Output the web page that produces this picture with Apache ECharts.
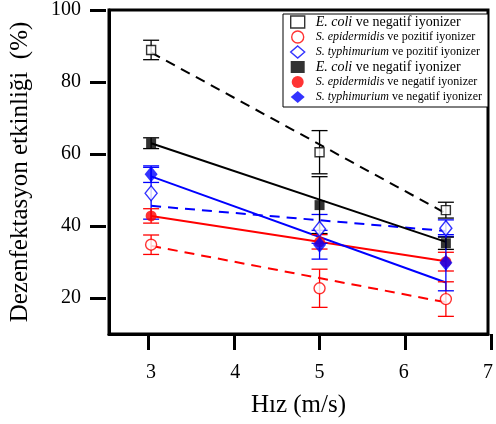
<!DOCTYPE html>
<html>
<head>
<meta charset="utf-8">
<script src="https://cdn.jsdelivr.net/npm/echarts@6/dist/echarts.min.js"></script>
<style>
  html, body { margin: 0; padding: 0; background: #fff; }
  #chart { width: 496px; height: 424px; }
</style>
</head>
<body>
<div id="chart"></div>
<script>
// Speed vs disinfection efficiency, 6 groups with error bars and linear fits.
const xVals = [3, 5, 6.5];
const xTicks = [3, 4, 5, 6, 7];
const yTicks = [20, 40, 60, 80, 100];
const X_MIN = 2.5, X_MAX = 7, Y_MIN = 10, Y_MAX = 100;

const ecoliPoz = [88.9, 60.5, 44.4];
const ecoliPozErr = [2.7, 6.0, 2.2];
const sepiPoz = [34.8, 22.7, 19.7];
const sepiPozErr = [2.7, 5.3, 4.8];
const styphPoz = [49.1, 39.2, 39.4];
const styphPozErr = [7.2, 4.0, 2.3];
const ecoliNeg = [63.0, 45.8, 35.2];
const ecoliNegErr = [1.5, 7.9, 1.7];
const sepiNeg = [42.8, 35.6, 30.1];
const sepiNegErr = [2.0, 2.0, 2.6];
const styphNeg = [54.4, 34.8, 29.8];
const styphNegErr = [2.3, 4.0, 7.8];

// fit lines, read at x = 3 and x = 6.5
const fitX = [3, 6.5];
const fitEcoliPoz = [88.2, 43.5];
const fitSepiPoz = [34.5, 18.8];
const fitStyphPoz = [45.6, 38.6];
const fitEcoliNeg = [63.0, 35.6];
const fitSepiNeg = [42.8, 30.2];
const fitStyphNeg = [53.8, 24.3];

const legendSpecies = ['E. coli', 'S. epidermidis', 'S. typhimurium', 'E. coli', 'S. epidermidis', 'S. typhimurium'];
const legendRest = [' ve negatif iyonizer', ' ve pozitif iyonizer', ' ve pozitif iyonizer', ' ve negatif iyonizer', ' ve negatif iyonizer', ' ve negatif iyonizer'];

const FONT = "'Liberation Serif', 'Times New Roman', serif";
const BLACK = '#000000', RED = '#ff0000', BLUE = '#0000ff';

const W = 496, H = 424;
const GRID = { left: 106, right: 5, top: 10, bottom: 90 };

const groups = [
  { key: 'g0', vals: ecoliPoz, err: ecoliPozErr, fit: fitEcoliPoz, color: BLACK, open: true,  symbol: 'rect',    size: 9,        dash: true },
  { key: 'g1', vals: sepiPoz,  err: sepiPozErr,  fit: fitSepiPoz,  color: RED,   open: true,  symbol: 'circle',  size: 11,       dash: true },
  { key: 'g2', vals: styphPoz, err: styphPozErr, fit: fitStyphPoz, color: BLUE,  open: true,  symbol: 'diamond', size: [12, 15], dash: true },
  { key: 'g3', vals: ecoliNeg, err: ecoliNegErr, fit: fitEcoliNeg, color: BLACK, open: false, symbol: 'rect',    size: 10,       dash: false },
  { key: 'g4', vals: sepiNeg,  err: sepiNegErr,  fit: fitSepiNeg,  color: RED,   open: false, symbol: 'circle',  size: 11,       dash: false },
  { key: 'g5', vals: styphNeg, err: styphNegErr, fit: fitStyphNeg, color: BLUE,  open: false, symbol: 'diamond', size: [13, 16], dash: false },
];

function markerStyle(g) {
  return g.open
    ? { color: '#fff', borderColor: g.color, borderWidth: 1.4 }
    : { color: g.color, borderColor: g.color, borderWidth: 0 };
}

function errorRender(params, api) {
  const x = api.value(0);
  const top = api.coord([x, api.value(2)]);
  const bot = api.coord([x, api.value(1)]);
  const half = 8;
  const style = { stroke: api.visual('color'), lineWidth: 1.3 };
  return {
    type: 'group',
    children: [
      { type: 'line', shape: { x1: top[0], y1: top[1], x2: bot[0], y2: bot[1] }, style },
      { type: 'line', shape: { x1: top[0] - half, y1: top[1], x2: top[0] + half, y2: top[1] }, style },
      { type: 'line', shape: { x1: bot[0] - half, y1: bot[1], x2: bot[0] + half, y2: bot[1] }, style },
    ],
  };
}

const series = [];
groups.forEach((g) => {
  series.push({
    name: g.key + '_fit', type: 'line', z: 2, silent: true, showSymbol: false,
    data: fitX.map((x, i) => [x, g.fit[i]]),
    lineStyle: { color: g.color, width: 2, type: g.dash ? [10, 7] : 'solid' },
  });
});
groups.forEach((g) => {
  series.push({
    name: g.key + '_err', type: 'custom', z: 3, silent: true,
    itemStyle: { color: g.color },
    data: xVals.map((x, i) => [x, g.vals[i] - g.err[i], g.vals[i] + g.err[i]]),
    renderItem: errorRender,
  });
});
groups.forEach((g) => {
  series.push({
    name: g.key, type: 'scatter', z: 4,
    symbol: g.symbol, symbolSize: g.size,
    itemStyle: markerStyle(g),
    data: xVals.map((x, i) => [x, g.vals[i]]),
  });
});

// outward axis ticks as small graphic bars, positioned from the axis extents
const TICK_LEN = 16, TICK_W = 3;
const plotW = W - GRID.left - GRID.right;
const plotH = H - GRID.top - GRID.bottom;
const tickEls = [];
xTicks.forEach((v) => {
  const px = GRID.left + (v - X_MIN) / (X_MAX - X_MIN) * plotW;
  tickEls.push({
    type: 'rect', silent: true, z: 50,
    left: Math.round(px - TICK_W / 2), top: H - GRID.bottom,
    shape: { width: TICK_W, height: TICK_LEN }, style: { fill: BLACK },
  });
});
yTicks.forEach((v) => {
  const py = GRID.top + (Y_MAX - v) / (Y_MAX - Y_MIN) * plotH;
  tickEls.push({
    type: 'rect', silent: true, z: 50,
    left: GRID.left - TICK_LEN, top: Math.round(py - TICK_W / 2),
    shape: { width: TICK_LEN, height: TICK_W }, style: { fill: BLACK },
  });
});

const chart = echarts.init(document.getElementById('chart'), null, { renderer: 'canvas' });

const rich = {
  i14: { fontFamily: FONT, fontSize: 14, fontStyle: 'italic', color: BLACK, lineHeight: 14 },
  n14: { fontFamily: FONT, fontSize: 14, color: BLACK, lineHeight: 14 },
  i12: { fontFamily: FONT, fontSize: 12, fontStyle: 'italic', color: BLACK, lineHeight: 14 },
  n12: { fontFamily: FONT, fontSize: 12, color: BLACK, lineHeight: 14 },
};

chart.setOption({
  animation: false,
  backgroundColor: '#fff',
  textStyle: { fontFamily: FONT, color: BLACK },
  grid: Object.assign({ show: true, borderColor: BLACK, borderWidth: 3 }, GRID),
  legend: {
    left: 283, top: 14, orient: 'vertical',
    backgroundColor: '#fff', borderColor: BLACK, borderWidth: 1,
    padding: [1, 6, 3, 7],
    itemGap: 1, itemWidth: 14, itemHeight: 12,
    data: groups.map((g) => ({
      name: g.key, icon: g.symbol, itemStyle: markerStyle(g),
    })),
    formatter: (name) => {
      const i = groups.findIndex((g) => g.key === name);
      const sz = legendSpecies[i] === 'E. coli' ? '14' : '12';
      return '{i' + sz + '|' + legendSpecies[i] + '}{n' + sz + '|' + legendRest[i] + '}';
    },
    textStyle: {
      fontFamily: FONT, fontSize: 14, color: BLACK, lineHeight: 14,
      padding: [0, 0, 0, 6],
      rich,
    },
  },
  xAxis: {
    type: 'value', min: X_MIN, max: X_MAX,
    name: 'Hız (m/s)', nameLocation: 'middle', nameGap: 59,
    nameTextStyle: { fontFamily: FONT, fontSize: 25, color: BLACK },
    axisLine: { show: true, onZero: false, lineStyle: { color: BLACK, width: 3 } },
    axisTick: { show: false },
    axisLabel: { fontFamily: FONT, fontSize: 20, color: BLACK, margin: 29, customValues: xTicks },
    splitLine: { show: false },
  },
  yAxis: {
    type: 'value', min: Y_MIN, max: Y_MAX,
    name: 'Dezenfektasyon etkinliği  (%)', nameLocation: 'middle', nameGap: 76,
    nameTextStyle: { fontFamily: FONT, fontSize: 25, color: BLACK },
    axisLine: { show: true, onZero: false, lineStyle: { color: BLACK, width: 3 } },
    axisTick: { show: false },
    axisLabel: { fontFamily: FONT, fontSize: 20, color: BLACK, margin: 28, customValues: yTicks },
    splitLine: { show: false },
  },
  graphic: { elements: tickEls },
  series,
});
</script>
</body>
</html>
